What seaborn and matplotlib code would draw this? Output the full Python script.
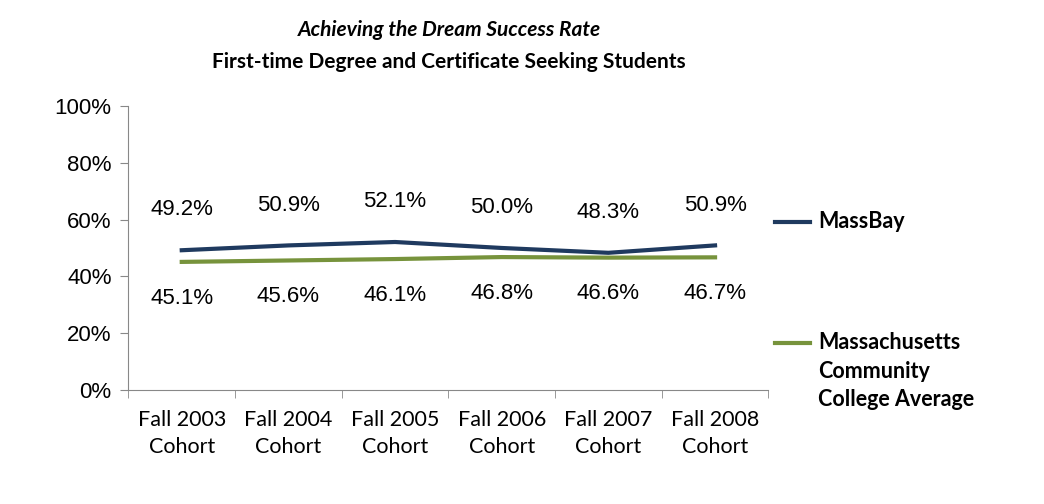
import matplotlib
matplotlib.use("Agg")
import matplotlib.pyplot as plt
import seaborn as sns
import pandas as pd

cohorts = ["Fall 2003\nCohort", "Fall 2004\nCohort", "Fall 2005\nCohort",
           "Fall 2006\nCohort", "Fall 2007\nCohort", "Fall 2008\nCohort"]
massbay = [49.2, 50.9, 52.1, 50.0, 48.3, 50.9]
mass_avg = [45.1, 45.6, 46.1, 46.8, 46.6, 46.7]
y_ticks = [0, 20, 40, 60, 80, 100]

navy = "#1F3A5F"
green = "#77933C"

df = pd.DataFrame({"cohort": cohorts * 2,
                   "rate": massbay + mass_avg,
                   "series": ["MassBay"] * 6 + ["Massachusetts Community College Average"] * 6})

fig = plt.figure(figsize=(10.44, 5.04), dpi=100)
ax = fig.add_axes([0.123, 0.226, 0.613, 0.564])
sns.lineplot(data=df, x="cohort", y="rate", hue="series", sort=False,
             palette=[navy, green], linewidth=3, ax=ax, legend=False)

for i, v in enumerate(massbay):
    ax.annotate(f"{v:.1f}%", (i, v), xytext=(0, 29), textcoords="offset points",
                ha="center", va="center", fontsize=16, family="Liberation Sans")
for i, v in enumerate(mass_avg):
    ax.annotate(f"{v:.1f}%", (i, v), xytext=(0, -26), textcoords="offset points",
                ha="center", va="center", fontsize=16, family="Liberation Sans")

ax.set_xlim(-0.5, 5.5)
ax.set_ylim(0, 100)
ax.set_yticks(y_ticks)
ax.set_yticklabels([f"{t}%" for t in y_ticks], fontsize=16, family="Liberation Sans")
ax.set_xticks(range(len(cohorts)))
ax.set_xticklabels(cohorts, fontsize=15.5, family="Lato", linespacing=1.45)
ax.set_xticks([i + 0.5 for i in range(-1, 6)], minor=True)
ax.tick_params(axis="x", which="major", length=0, pad=14)
ax.tick_params(axis="x", which="minor", length=6, color="#888888")
ax.tick_params(axis="y", length=6, color="#888888", pad=6)
ax.set_xlabel("")
ax.set_ylabel("")
for s in ["top", "right"]:
    ax.spines[s].set_visible(False)
for s in ["left", "bottom"]:
    ax.spines[s].set_color("#888888")

# legend on the right
for ypix, label, col in [(222, "MassBay", navy),
                         (343, "Massachusetts\nCommunity\nCollege Average", green)]:
    yf = 1 - ypix / 504
    fig.add_artist(plt.Line2D([775 / 1044, 810 / 1044], [yf, yf], color=col, lw=3))
    fig.text(818 / 1044, yf + 0.022, label, fontsize=15.5, family="Lato", fontweight="bold",
             va="top", ha="left", multialignment="left", linespacing=1.45)

fig.text(0.43, 0.94, "Achieving the Dream Success Rate", ha="center", va="center",
         fontsize=15, family="Lato", fontweight="bold", style="italic")
fig.text(0.43, 0.877, "First-time Degree and Certificate Seeking Students", ha="center",
         va="center", fontsize=15, family="Lato", fontweight="bold")

fig.savefig("out.png", dpi=100)
